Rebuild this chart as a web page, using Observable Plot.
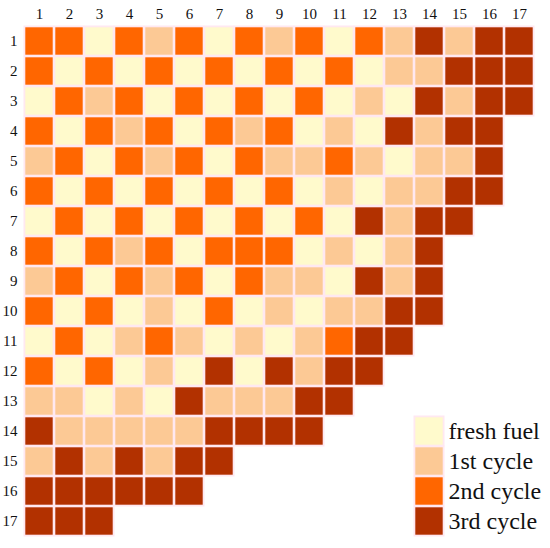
<!DOCTYPE html>
<html><head><meta charset="utf-8">
<script src="https://cdn.jsdelivr.net/npm/d3@7"></script>
<script src="https://cdn.jsdelivr.net/npm/@observablehq/plot@0.6"></script>
<style>body{margin:0;background:#fff}</style>
</head><body><div id="chart"></div>
<script>
// Assembly positions (column / row labels)
const positions = d3.range(1, 18);
// Cycle categories: 0 = fresh, 1 = 1st, 2 = 2nd, 3 = 3rd
const cycleCodes = [0, 1, 2, 3];
const cycleLabels = ["fresh fuel", "1st cycle", "2nd cycle", "3rd cycle"];
const cycleColors = ["#FFFACC", "#FCC995", "#FF6600", "#B23100"];

// Core loading map, one array per row (left to right)
const row1  = [2,2,0,2,1,2,0,2,1,2,0,2,1,3,1,3,3];
const row2  = [2,0,2,0,2,0,2,0,2,0,2,0,1,1,3,3,3];
const row3  = [0,2,1,2,0,2,0,2,0,2,0,1,0,3,1,3,3];
const row4  = [2,0,2,1,2,0,2,1,2,0,1,0,3,1,3,3];
const row5  = [1,2,0,2,1,2,0,2,1,1,2,1,0,1,1,3];
const row6  = [2,0,2,0,2,0,2,0,2,0,1,0,1,1,3,3];
const row7  = [0,2,0,2,0,2,0,2,0,2,0,3,1,3,3];
const row8  = [2,0,2,1,2,0,2,2,2,0,1,0,1,3];
const row9  = [1,2,0,2,1,2,0,2,1,1,0,3,1,3];
const row10 = [2,0,2,0,1,0,2,0,1,0,1,1,3,3];
const row11 = [0,2,0,1,2,1,0,1,0,1,2,3,3];
const row12 = [2,0,2,0,1,0,3,0,3,1,3,3];
const row13 = [1,1,0,1,0,3,1,1,1,3,3];
const row14 = [3,1,1,1,1,1,3,3,3,3];
const row15 = [1,3,1,3,1,3,3];
const row16 = [3,3,3,3,3,3];
const row17 = [3,3,3];
const rows = [row1,row2,row3,row4,row5,row6,row7,row8,row9,row10,row11,row12,row13,row14,row15,row16,row17];

const cells = rows.flatMap((r, i) => r.map((c, j) => ({row: positions[i], col: positions[j], cycle: c})));
// legend placed in the empty lower-right corner of the grid (column 14, rows 14-17)
const legend = cycleCodes.map((c, i) => ({label: cycleLabels[i], cycle: c, col: 14, row: 14 + i}));

const chart = Plot.plot({
  width: 550,
  height: 548,
  marginLeft: 21,
  marginRight: 13,
  marginTop: 22,
  marginBottom: 9,
  style: {fontFamily: "'Liberation Serif', serif", fontSize: "15px", background: "white", color: "#111"},
  x: {type: "band", domain: positions, axis: "top", padding: 0, tickSize: 0, tickPadding: 4, label: null},
  y: {type: "band", domain: positions, padding: 0, tickSize: 0, tickPadding: 4, label: null},
  color: {type: "ordinal", domain: cycleCodes, range: cycleColors},
  marks: [
    Plot.cell(cells, {x: "col", y: "row", fill: "#FFE8F1", inset: -0.5}),
    Plot.cell(legend, {x: "col", y: "row", fill: "#FFE8F1", inset: -0.5}),
    Plot.cell(cells, {x: "col", y: "row", fill: "cycle", inset: 1.3}),
    Plot.cell(legend, {x: "col", y: "row", fill: "cycle", inset: 1.3}),
    Plot.text(legend, {x: "col", y: "row", text: "label", textAnchor: "start", dx: 19, fontSize: 24, fill: "#111"})
  ]
});
document.getElementById("chart").appendChild(chart);
</script>
</body></html>
